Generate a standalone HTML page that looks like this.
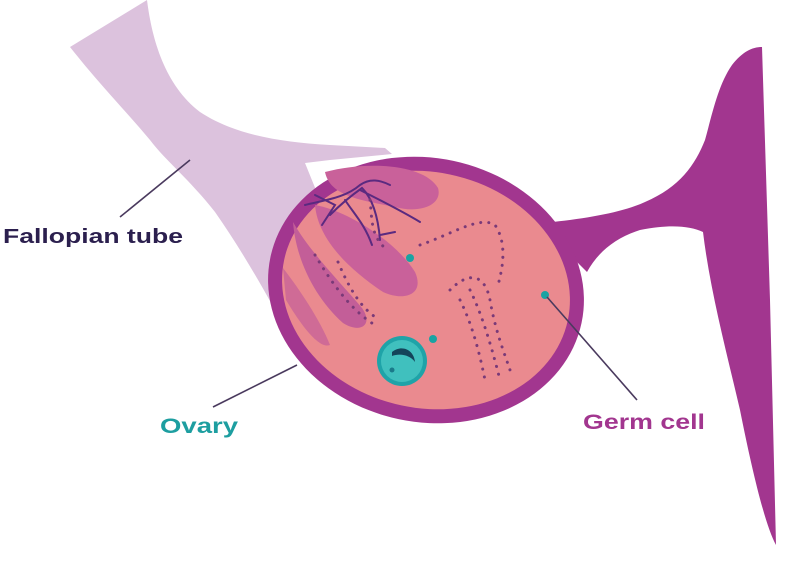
<!DOCTYPE html>
<html><head><meta charset="utf-8"><style>
html,body{margin:0;padding:0;background:#fff;width:800px;height:569px;overflow:hidden}
svg{display:block}
text{font-family:"Liberation Sans",sans-serif;font-weight:bold}
</style></head><body>
<svg width="800" height="569" viewBox="0 0 800 569" xmlns="http://www.w3.org/2000/svg">
<!-- fallopian tube -->
<path d="M70,47 L147,0 C152,40 165,85 200,112 C235,135 280,142 330,145 L385,148 L392,154 L330,160 L305,163 L320,200 L287,333 C270,300 245,255 215,212 C190,180 165,160 150,140 C125,110 100,85 70,47 Z" fill="#dcc2dd"/>
<!-- uterus + arm -->
<path d="M540,225 L553,222 C590,218 623,212 645,202 C680,187 695,165 705,140 C712,115 718,85 732,65 C742,52 752,47 762,47 L770,300 L776,545 C765,525 752,470 740,410 C726,350 710,290 703,232 C690,226 670,224 640,230 C615,238 598,252 587,272 Z" fill="#a2368f"/>
<!-- ovary -->
<g transform="rotate(12 426 290)">
<ellipse cx="426" cy="290" rx="159" ry="132" fill="#a2368f"/>
<ellipse cx="426" cy="290" rx="145" ry="118" fill="#ea8a8f"/>
</g>
<!-- inner lobes -->
<path d="M325,172 C370,160 425,165 438,188 C443,205 420,214 395,207 C360,200 330,196 325,172 Z" fill="#c9619a"/>
<path d="M315,205 C345,210 395,240 415,272 C425,294 405,302 383,292 C350,270 318,240 315,205 Z" fill="#c9619a"/>
<path d="M293,222 C310,252 340,282 362,308 C374,325 360,334 343,323 C315,298 296,260 293,222 Z" fill="#c35e98"/>
<path d="M283,268 C300,290 320,320 330,345 C318,350 298,320 286,300 Z" fill="#c35e98" opacity="0.7"/>
<!-- vessels -->
<g stroke="#5a2a80" stroke-width="2" fill="none" stroke-linecap="round">
<path d="M305,205 C325,200 345,198 360,185 C370,178 380,180 390,185"/>
<path d="M330,215 C340,205 352,195 362,188 C372,198 378,215 380,240"/>
<path d="M345,200 C355,215 365,225 372,245"/>
<path d="M360,190 C380,200 400,210 420,222"/>
<path d="M315,195 L335,205 L322,225"/>
<path d="M380,235 L395,232"/>
</g>
<!-- dotted paths -->
<g fill="none" stroke="#7a3a78" stroke-width="3" stroke-dasharray="0.1 8" stroke-linecap="round">
<path d="M315,255 C330,280 350,310 375,325"/>
<path d="M338,262 C350,290 362,310 380,320"/>
<path d="M370,200 C372,215 370,235 385,248"/>
<path d="M420,245 C450,235 480,215 495,225 C505,240 505,260 498,285"/>
<path d="M450,290 C470,270 485,275 490,300 C495,330 505,355 510,370"/>
<path d="M460,300 C470,320 478,345 485,380"/>
<path d="M470,290 C480,310 490,340 500,380"/>
</g>
<!-- teal cell -->
<circle cx="402" cy="361" r="25" fill="#1fa3a8"/>
<circle cx="402" cy="361" r="21" fill="#40c0be"/>
<path d="M392,352 C402,344 414,350 415,362 C410,355 400,353 392,356 Z" fill="#14445a"/>
<circle cx="392" cy="370" r="2.5" fill="#1a7a8a"/>
<circle cx="410" cy="258" r="4" fill="#1aa3a3"/>
<circle cx="433" cy="339" r="4" fill="#1aa3a3"/>
<circle cx="545" cy="295" r="4" fill="#1aa3a3"/>
<!-- leader lines -->
<g stroke="#4a3a5e" stroke-width="1.6">
<line x1="120" y1="217" x2="190" y2="160"/>
<line x1="213" y1="407" x2="297" y2="365"/>
<line x1="547" y1="297" x2="637" y2="400"/>
</g>
<text x="3" y="243" font-size="20" fill="#2b1f4e" textLength="180" lengthAdjust="spacingAndGlyphs">Fallopian tube</text>
<text x="160" y="433" font-size="21" fill="#1d9ea0" textLength="78" lengthAdjust="spacingAndGlyphs">Ovary</text>
<text x="583" y="429" font-size="21" fill="#a2368f" textLength="122" lengthAdjust="spacingAndGlyphs">Germ cell</text>
</svg>
</body></html>
